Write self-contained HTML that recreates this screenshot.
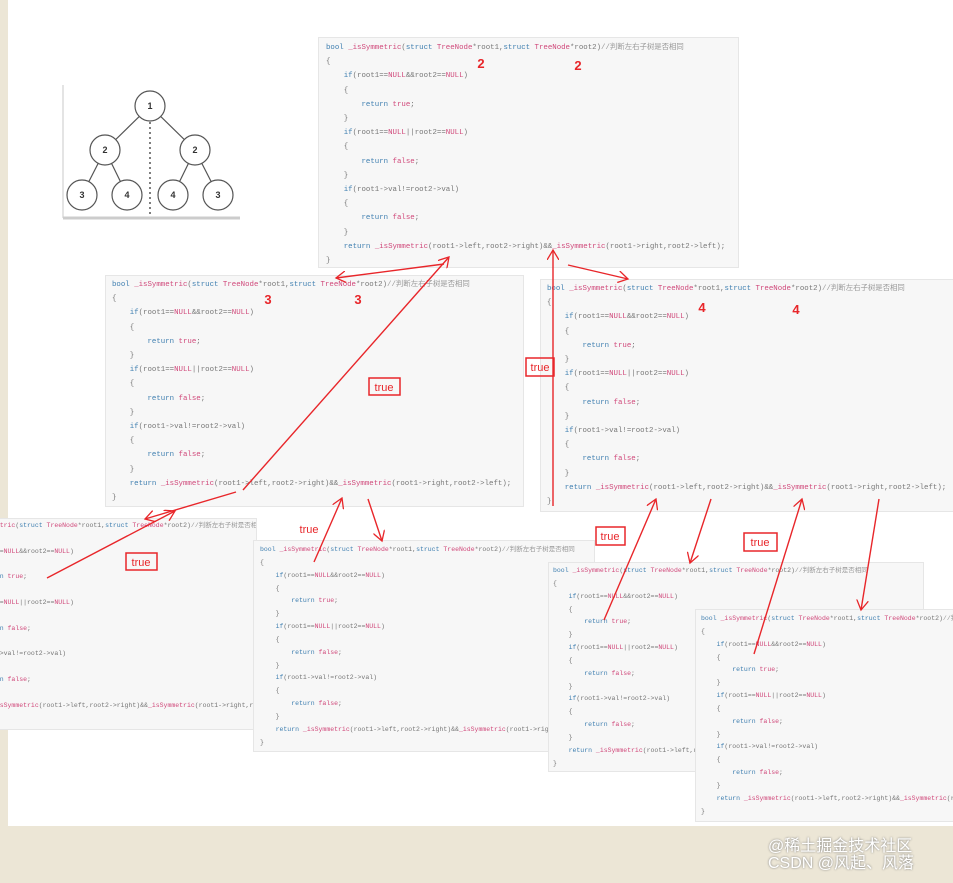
<!DOCTYPE html>
<html><head><meta charset="utf-8"><style>
body{margin:0;width:953px;height:883px;overflow:hidden;background:#fff;position:relative;font-family:"Liberation Mono","Noto Sans CJK SC",monospace;}
.bg{position:absolute;left:0;top:826px;width:953px;height:57px;background:#ece6d6;}
.lb{position:absolute;left:0;top:0;width:8px;height:883px;background:#ece6d6;}
.blk{position:absolute;background:#f7f7f7;border:1px solid #e6e6e6;overflow:hidden;}
.blk pre{position:absolute;margin:0;color:#777;white-space:pre;font-family:"Liberation Mono","Noto Sans CJK SC",monospace;}
.k{color:#3f7fb0}.f{color:#d0487a}.c{color:#999}
.big pre{font-size:7.4px;line-height:14.2px;}
.sm pre{font-size:6.5px;line-height:12.85px;}
.wm{position:absolute;left:768px;top:838px;color:#fff;font-family:"Liberation Sans","Noto Sans CJK SC",sans-serif;font-size:16px;line-height:17px;text-shadow:0 0 2px #777;}
</style></head><body>
<div class="bg"></div><div class="lb"></div>

<svg style="position:absolute;left:0;top:0" width="953" height="883">
<line x1="63" y1="85" x2="63" y2="218" stroke="#e4e4e4" stroke-width="2"/>
<line x1="63" y1="218" x2="240" y2="218" stroke="#ccc" stroke-width="3"/>
<g stroke="#555" stroke-width="1.2">
<line x1="150" y1="106" x2="105" y2="150"/><line x1="150" y1="106" x2="195" y2="150"/>
<line x1="105" y1="150" x2="82" y2="195"/><line x1="105" y1="150" x2="127" y2="195"/>
<line x1="195" y1="150" x2="173" y2="195"/><line x1="195" y1="150" x2="218" y2="195"/>
<line x1="150" y1="122" x2="150" y2="215" stroke-dasharray="2,3" stroke-width="1.5"/>
</g>
<g fill="#fff" stroke="#555" stroke-width="1.2">
<circle cx="150" cy="106" r="15"/><circle cx="105" cy="150" r="15"/><circle cx="195" cy="150" r="15"/>
<circle cx="82" cy="195" r="15"/><circle cx="127" cy="195" r="15"/><circle cx="173" cy="195" r="15"/><circle cx="218" cy="195" r="15"/>
</g>
<g font-family="Liberation Sans" font-size="9" font-weight="bold" fill="#333" text-anchor="middle">
<text x="150" y="109">1</text><text x="105" y="153">2</text><text x="195" y="153">2</text>
<text x="82" y="198">3</text><text x="127" y="198">4</text><text x="173" y="198">4</text><text x="218" y="198">3</text>
</g>
</svg>

<div class="blk big" style="left:318px;top:37px;width:419px;height:229px"><pre style="left:7px;top:3px"><span class="k">bool</span> <span class="f">_isSymmetric</span>(<span class="k">struct</span> <span class="f">TreeNode</span>*root1,<span class="k">struct</span> <span class="f">TreeNode</span>*root2)<span class="c">//判断左右子树是否相同</span>
{
    <span class="k">if</span>(root1==<span class="f">NULL</span>&amp;&amp;root2==<span class="f">NULL</span>)
    {
        <span class="k">return</span> <span class="f">true</span>;
    }
    <span class="k">if</span>(root1==<span class="f">NULL</span>||root2==<span class="f">NULL</span>)
    {
        <span class="k">return</span> <span class="f">false</span>;
    }
    <span class="k">if</span>(root1-&gt;val!=root2-&gt;val)
    {
        <span class="k">return</span> <span class="f">false</span>;
    }
    <span class="k">return</span> <span class="f">_isSymmetric</span>(root1-&gt;left,root2-&gt;right)&amp;&amp;<span class="f">_isSymmetric</span>(root1-&gt;right,root2-&gt;left);
}</pre></div>

<div class="blk big" style="left:105px;top:275px;width:417px;height:230px"><pre style="left:6px;top:2px"><span class="k">bool</span> <span class="f">_isSymmetric</span>(<span class="k">struct</span> <span class="f">TreeNode</span>*root1,<span class="k">struct</span> <span class="f">TreeNode</span>*root2)<span class="c">//判断左右子树是否相同</span>
{
    <span class="k">if</span>(root1==<span class="f">NULL</span>&amp;&amp;root2==<span class="f">NULL</span>)
    {
        <span class="k">return</span> <span class="f">true</span>;
    }
    <span class="k">if</span>(root1==<span class="f">NULL</span>||root2==<span class="f">NULL</span>)
    {
        <span class="k">return</span> <span class="f">false</span>;
    }
    <span class="k">if</span>(root1-&gt;val!=root2-&gt;val)
    {
        <span class="k">return</span> <span class="f">false</span>;
    }
    <span class="k">return</span> <span class="f">_isSymmetric</span>(root1-&gt;left,root2-&gt;right)&amp;&amp;<span class="f">_isSymmetric</span>(root1-&gt;right,root2-&gt;left);
}</pre></div>

<div class="blk big" style="left:540px;top:279px;width:420px;height:231px"><pre style="left:6px;top:2px"><span class="k">bool</span> <span class="f">_isSymmetric</span>(<span class="k">struct</span> <span class="f">TreeNode</span>*root1,<span class="k">struct</span> <span class="f">TreeNode</span>*root2)<span class="c">//判断左右子树是否相同</span>
{
    <span class="k">if</span>(root1==<span class="f">NULL</span>&amp;&amp;root2==<span class="f">NULL</span>)
    {
        <span class="k">return</span> <span class="f">true</span>;
    }
    <span class="k">if</span>(root1==<span class="f">NULL</span>||root2==<span class="f">NULL</span>)
    {
        <span class="k">return</span> <span class="f">false</span>;
    }
    <span class="k">if</span>(root1-&gt;val!=root2-&gt;val)
    {
        <span class="k">return</span> <span class="f">false</span>;
    }
    <span class="k">return</span> <span class="f">_isSymmetric</span>(root1-&gt;left,root2-&gt;right)&amp;&amp;<span class="f">_isSymmetric</span>(root1-&gt;right,root2-&gt;left);
}</pre></div>

<div class="blk sm" style="left:-2px;top:518px;width:257px;height:210px"><pre style="left:-50px;top:1px"><span class="k">bool</span> <span class="f">_isSymmetric</span>(<span class="k">struct</span> <span class="f">TreeNode</span>*root1,<span class="k">struct</span> <span class="f">TreeNode</span>*root2)<span class="c">//判断左右子树是否相同</span>
{
    <span class="k">if</span>(root1==<span class="f">NULL</span>&amp;&amp;root2==<span class="f">NULL</span>)
    {
        <span class="k">return</span> <span class="f">true</span>;
    }
    <span class="k">if</span>(root1==<span class="f">NULL</span>||root2==<span class="f">NULL</span>)
    {
        <span class="k">return</span> <span class="f">false</span>;
    }
    <span class="k">if</span>(root1-&gt;val!=root2-&gt;val)
    {
        <span class="k">return</span> <span class="f">false</span>;
    }
    <span class="k">return</span> <span class="f">_isSymmetric</span>(root1-&gt;left,root2-&gt;right)&amp;&amp;<span class="f">_isSymmetric</span>(root1-&gt;right,root2-&gt;left);
}</pre></div>

<div class="blk sm" style="left:253px;top:540px;width:340px;height:210px"><pre style="left:6px;top:3px"><span class="k">bool</span> <span class="f">_isSymmetric</span>(<span class="k">struct</span> <span class="f">TreeNode</span>*root1,<span class="k">struct</span> <span class="f">TreeNode</span>*root2)<span class="c">//判断左右子树是否相同</span>
{
    <span class="k">if</span>(root1==<span class="f">NULL</span>&amp;&amp;root2==<span class="f">NULL</span>)
    {
        <span class="k">return</span> <span class="f">true</span>;
    }
    <span class="k">if</span>(root1==<span class="f">NULL</span>||root2==<span class="f">NULL</span>)
    {
        <span class="k">return</span> <span class="f">false</span>;
    }
    <span class="k">if</span>(root1-&gt;val!=root2-&gt;val)
    {
        <span class="k">return</span> <span class="f">false</span>;
    }
    <span class="k">return</span> <span class="f">_isSymmetric</span>(root1-&gt;left,root2-&gt;right)&amp;&amp;<span class="f">_isSymmetric</span>(root1-&gt;right,root2-&gt;left);
}</pre></div>

<div class="blk sm" style="left:548px;top:562px;width:374px;height:208px"><pre style="left:4px;top:2px"><span class="k">bool</span> <span class="f">_isSymmetric</span>(<span class="k">struct</span> <span class="f">TreeNode</span>*root1,<span class="k">struct</span> <span class="f">TreeNode</span>*root2)<span class="c">//判断左右子树是否相同</span>
{
    <span class="k">if</span>(root1==<span class="f">NULL</span>&amp;&amp;root2==<span class="f">NULL</span>)
    {
        <span class="k">return</span> <span class="f">true</span>;
    }
    <span class="k">if</span>(root1==<span class="f">NULL</span>||root2==<span class="f">NULL</span>)
    {
        <span class="k">return</span> <span class="f">false</span>;
    }
    <span class="k">if</span>(root1-&gt;val!=root2-&gt;val)
    {
        <span class="k">return</span> <span class="f">false</span>;
    }
    <span class="k">return</span> <span class="f">_isSymmetric</span>(root1-&gt;left,root2-&gt;right)&amp;&amp;<span class="f">_isSymmetric</span>(root1-&gt;right,root2-&gt;left);
}</pre></div>

<div class="blk sm" style="left:695px;top:609px;width:270px;height:211px"><pre style="left:5px;top:3px"><span class="k">bool</span> <span class="f">_isSymmetric</span>(<span class="k">struct</span> <span class="f">TreeNode</span>*root1,<span class="k">struct</span> <span class="f">TreeNode</span>*root2)<span class="c">//判断左右子树是否相同</span>
{
    <span class="k">if</span>(root1==<span class="f">NULL</span>&amp;&amp;root2==<span class="f">NULL</span>)
    {
        <span class="k">return</span> <span class="f">true</span>;
    }
    <span class="k">if</span>(root1==<span class="f">NULL</span>||root2==<span class="f">NULL</span>)
    {
        <span class="k">return</span> <span class="f">false</span>;
    }
    <span class="k">if</span>(root1-&gt;val!=root2-&gt;val)
    {
        <span class="k">return</span> <span class="f">false</span>;
    }
    <span class="k">return</span> <span class="f">_isSymmetric</span>(root1-&gt;left,root2-&gt;right)&amp;&amp;<span class="f">_isSymmetric</span>(root1-&gt;right,root2-&gt;left);
}</pre></div>

<svg style="position:absolute;left:0;top:0" width="953" height="883">
<defs><marker id="a" markerWidth="12" markerHeight="12" refX="10" refY="6" orient="auto" markerUnits="userSpaceOnUse"><path d="M0,0 L10,6 L0,12" fill="none" stroke="#e8262a" stroke-width="1.3"/></marker></defs>
<g stroke="#e8262a" stroke-width="1.4" fill="none" marker-end="url(#a)">
<line x1="444" y1="264" x2="336" y2="278"/>
<line x1="243" y1="490" x2="449" y2="257"/>
<line x1="553" y1="506" x2="553" y2="250"/>
<line x1="568" y1="265" x2="628" y2="279"/>
<line x1="236" y1="492" x2="145" y2="519"/>
<line x1="47" y1="578" x2="175" y2="511"/>
<line x1="314" y1="562" x2="342" y2="498"/>
<line x1="368" y1="499" x2="382" y2="541"/>
<line x1="604" y1="620" x2="656" y2="499"/>
<line x1="711" y1="499" x2="690" y2="563"/>
<line x1="754" y1="654" x2="802" y2="499"/>
<line x1="879" y1="499" x2="861" y2="610"/>
</g>
<g fill="none" stroke="#e8262a" stroke-width="1.5">
<rect x="369" y="378" width="31" height="17"/>
<rect x="526" y="358" width="28" height="18"/>
<rect x="126" y="553" width="31" height="17"/>
<rect x="596" y="527" width="29" height="18"/>
<rect x="744" y="533" width="33" height="18"/>
</g>
<g font-family="Liberation Sans" font-size="11" fill="#e8262a" text-anchor="middle">
<text x="384" y="391">true</text><text x="540" y="371">true</text><text x="141" y="566">true</text>
<text x="610" y="540">true</text><text x="760" y="546">true</text><text x="309" y="533">true</text>
</g>
<g font-family="Liberation Sans" font-size="13" font-weight="bold" fill="#e8262a" text-anchor="middle">
<text x="481" y="68">2</text><text x="578" y="70">2</text>
<text x="268" y="304">3</text><text x="358" y="304">3</text>
<text x="702" y="312">4</text><text x="796" y="314">4</text>
</g>
</svg>
<div class="wm">@稀土掘金技术社区<br>CSDN @风起、风落</div>
</body></html>
